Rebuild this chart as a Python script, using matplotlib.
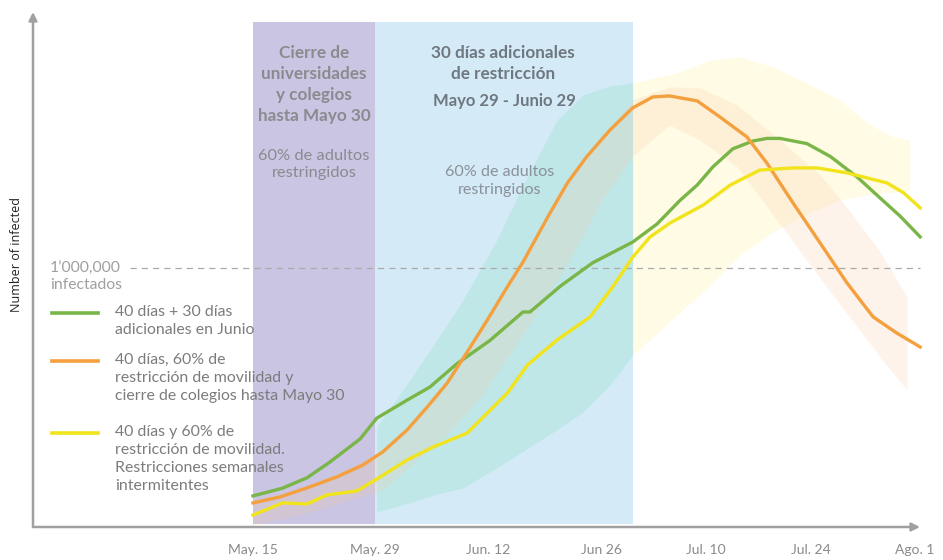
import numpy as np
import matplotlib
matplotlib.use("Agg")
import matplotlib.pyplot as plt

plt.rcParams['font.family'] = ['Lato', 'DejaVu Sans']

# x = days since May 15, y = millions of infected
green_x = [0, 3.4, 6.2, 8.8, 12.3, 14.2, 17.7, 20.3, 23.4, 27.2, 31.0, 31.8, 35.3, 39.0, 43.6,
           46.4, 49.0, 51.0, 52.8, 55.1, 57.4, 59.0, 60.5, 63.6, 66.3, 69.4, 72.0, 74.3, 76.6]
green_y = [0.12, 0.15, 0.19, 0.25, 0.34, 0.42, 0.49, 0.54, 0.63, 0.72, 0.83, 0.83, 0.93, 1.02, 1.10,
           1.17, 1.26, 1.32, 1.39, 1.46, 1.49, 1.50, 1.50, 1.48, 1.43, 1.35, 1.27, 1.20, 1.12]

orange_x = [0, 3.1, 6.2, 9.6, 12.6, 14.9, 17.7, 20.0, 22.3, 24.6, 26.9, 29.2, 31.0, 34.1, 36.1,
            38.3, 41.0, 43.6, 45.9, 47.8, 51.0, 53.6, 56.7, 59.0, 62.0, 65.1, 68.2, 71.2, 73.9, 76.6]
orange_y = [0.093, 0.116, 0.151, 0.193, 0.239, 0.290, 0.375, 0.463, 0.556, 0.676, 0.799, 0.927, 1.023, 1.212, 1.328,
            1.429, 1.533, 1.618, 1.660, 1.664, 1.645, 1.583, 1.506, 1.405, 1.251, 1.097, 0.942, 0.811, 0.749, 0.695]

yellow_x = [0, 3.4, 6.2, 8.5, 11.9, 14.6, 17.7, 20.7, 24.6, 26.9, 29.2, 31.5, 34.9, 38.7, 41.3,
            43.6, 45.6, 47.9, 51.7, 54.8, 58.2, 62.0, 64.8, 68.2, 72.8, 74.7, 76.6]
yellow_y = [0.046, 0.093, 0.089, 0.124, 0.139, 0.193, 0.259, 0.309, 0.363, 0.440, 0.517, 0.625, 0.722, 0.811, 0.927,
            1.042, 1.120, 1.174, 1.243, 1.320, 1.378, 1.386, 1.386, 1.367, 1.328, 1.290, 1.232]

# uncertainty bands
yband_x = [14.2, 18.0, 21.1, 24.1, 28.0, 30.7, 34.9, 37.9, 41.0, 43.6, 48.7, 52.5, 55.9, 59.7, 63.6, 67.4, 70.5, 73.5, 75.4]
yband_hi = [0.386, 0.568, 0.722, 0.876, 1.108, 1.301, 1.571, 1.668, 1.703, 1.714, 1.753, 1.803, 1.815, 1.776, 1.714,
            1.649, 1.560, 1.506, 1.494]
yband_lo = [0.058, 0.093, 0.127, 0.151, 0.228, 0.286, 0.375, 0.444, 0.548, 0.664, 0.819, 0.934, 1.050, 1.139, 1.208,
            1.263, 1.282, 1.293, 1.301]

oband_x = [0, 5.4, 11.1, 14.9, 19.2, 22.6, 26.1, 29.5, 33.0, 36.4, 39.8, 43.6, 47.8, 51.3, 55.6, 60.5, 65.1, 68.5, 72.0, 75.1]
oband_hi = [0.104, 0.151, 0.228, 0.297, 0.432, 0.575, 0.761, 0.946, 1.127, 1.347, 1.494, 1.649, 1.699, 1.695, 1.629,
            1.494, 1.359, 1.220, 1.062, 0.888]
oband_lo = [0.008, 0.046, 0.104, 0.143, 0.270, 0.367, 0.502, 0.664, 0.849, 1.035, 1.247, 1.432, 1.552, 1.494, 1.390,
            1.170, 0.961, 0.811, 0.656, 0.529]

tick_days = [0, 14, 27, 40, 52, 64, 76]
tick_labels = ["May. 15", "May. 29", "Jun. 12", "Jun 26", "Jul. 10", "Jul. 24", "Ago. 1"]

school_closure = (0, 14)
extra_restriction = (14, 43.6)
threshold = 1.0

GREEN = '#79b547'
ORANGE = '#f4a03e'
YELLOW = '#f1e41c'
AXIS = '#a0a0a0'
LEGEND_TXT = '#7c7c7c'

fig = plt.figure(figsize=(9.43, 5.6), dpi=100)
ax = fig.add_axes([33 / 943, 33 / 560, 897 / 943, 515 / 560])
ax.set_xlim(-25.26, 77.73)
ax.set_ylim(0, 1.988)

# shaded periods
ax.axvspan(*school_closure, ymin=0.005, ymax=0.981, color='#c9c5e3', lw=0, zorder=0)
ax.axvspan(*extra_restriction, ymin=0.005, ymax=0.981, color='#d4ebf7', lw=0, zorder=0)

# bands
yb_x = np.array(yband_x)
inside = yb_x <= extra_restriction[1]
ax.fill_between(yb_x, yband_lo, yband_hi, where=inside, color='#a8e3d6', alpha=0.45, lw=0, zorder=1)
ax.fill_between(yb_x, yband_lo, yband_hi, where=~inside | (yb_x == extra_restriction[1]),
                color='#fff3b0', alpha=0.32, lw=0, zorder=1)
ax.fill_between(oband_x, oband_lo, oband_hi, color='#f7c79a', alpha=0.2, lw=0, zorder=1)

ax.hlines(threshold, -14.1, 76.6, colors='#aaaaaa', linestyles=(0, (5, 4)), lw=0.9, zorder=2)

ax.plot(green_x, green_y, color=GREEN, lw=2.4, zorder=4, solid_joinstyle='round')
ax.plot(orange_x, orange_y, color=ORANGE, lw=2.4, zorder=4, solid_joinstyle='round')
ax.plot(yellow_x, yellow_y, color=YELLOW, lw=2.4, zorder=4, solid_joinstyle='round')

# axes with arrows
for s in ax.spines.values():
    s.set_visible(False)
ax.annotate('', xy=(0, 1), xytext=(0, 0), xycoords='axes fraction',
            arrowprops=dict(arrowstyle='-|>', color=AXIS, lw=1.8, mutation_scale=12, shrinkA=0, shrinkB=0))
ax.annotate('', xy=(887 / 897, 0), xytext=(0, 0), xycoords='axes fraction',
            arrowprops=dict(arrowstyle='-|>', color=AXIS, lw=1.8, mutation_scale=12, shrinkA=0, shrinkB=0))
ax.set_yticks([])
ax.set_xticks(tick_days, tick_labels)
ax.tick_params(axis='x', length=0, pad=12, labelsize=10, labelcolor='#8a8a8a')

def px(x, y):
    return x / 943, 1 - y / 560

fig.text(*px(17, 255), "Number of infected", rotation=90, ha='center', va='center',
         fontsize=9, family=['Open Sans', 'DejaVu Sans'], color='#222222')

fig.text(*px(50, 277), "1’000,000\ninfectados", ha='left', va='center', fontsize=11.3,
         color='#a0a0a0', linespacing=1.2)

# legend
legend_items = [
    (GREEN, 313, "40 días + 30 días\nadicionales en Junio"),
    (ORANGE, 361, "40 días, 60% de\nrestricción de movilidad y\ncierre de colegios hasta Mayo 30"),
    (YELLOW, 433, "40 días y 60% de\nrestricción de movilidad.\nRestricciones semanales\nintermitentes"),
]
for color, ypx, label in legend_items:
    x0, y0 = px(52, ypx)
    x1, _ = px(98, ypx)
    fig.add_artist(plt.Line2D([x0, x1], [y0, y0], color=color, lw=2.6, transform=fig.transFigure))
    fig.text(*px(115, ypx - 8), label, ha='left', va='top', fontsize=11.4, color=LEGEND_TXT,
             linespacing=1.37, zorder=5)

# period annotations
fig.text(*px(314, 45), "Cierre de\nuniversidades\ny colegios\nhasta Mayo 30", ha='center', va='top',
         fontsize=12.3, fontweight='bold', color='#8a8a8f', linespacing=1.38)
fig.text(*px(314, 149), "60% de adultos\nrestringidos", ha='center', va='top',
         fontsize=11.8, color='#8a8a8f', linespacing=1.3)
fig.text(*px(503, 45), "30 días adicionales\nde restricción", ha='center', va='top',
         fontsize=12.3, fontweight='bold', color='#6f7780', linespacing=1.35)
fig.text(*px(504, 93), "Mayo 29 - Junio 29", ha='center', va='top',
         fontsize=12, fontweight='bold', color='#6f7780')
fig.text(*px(500, 165), "60% de adultos\nrestringidos", ha='center', va='top',
         fontsize=11.6, color='#8a9198', linespacing=1.35)

fig.savefig("out.png", dpi=100)
